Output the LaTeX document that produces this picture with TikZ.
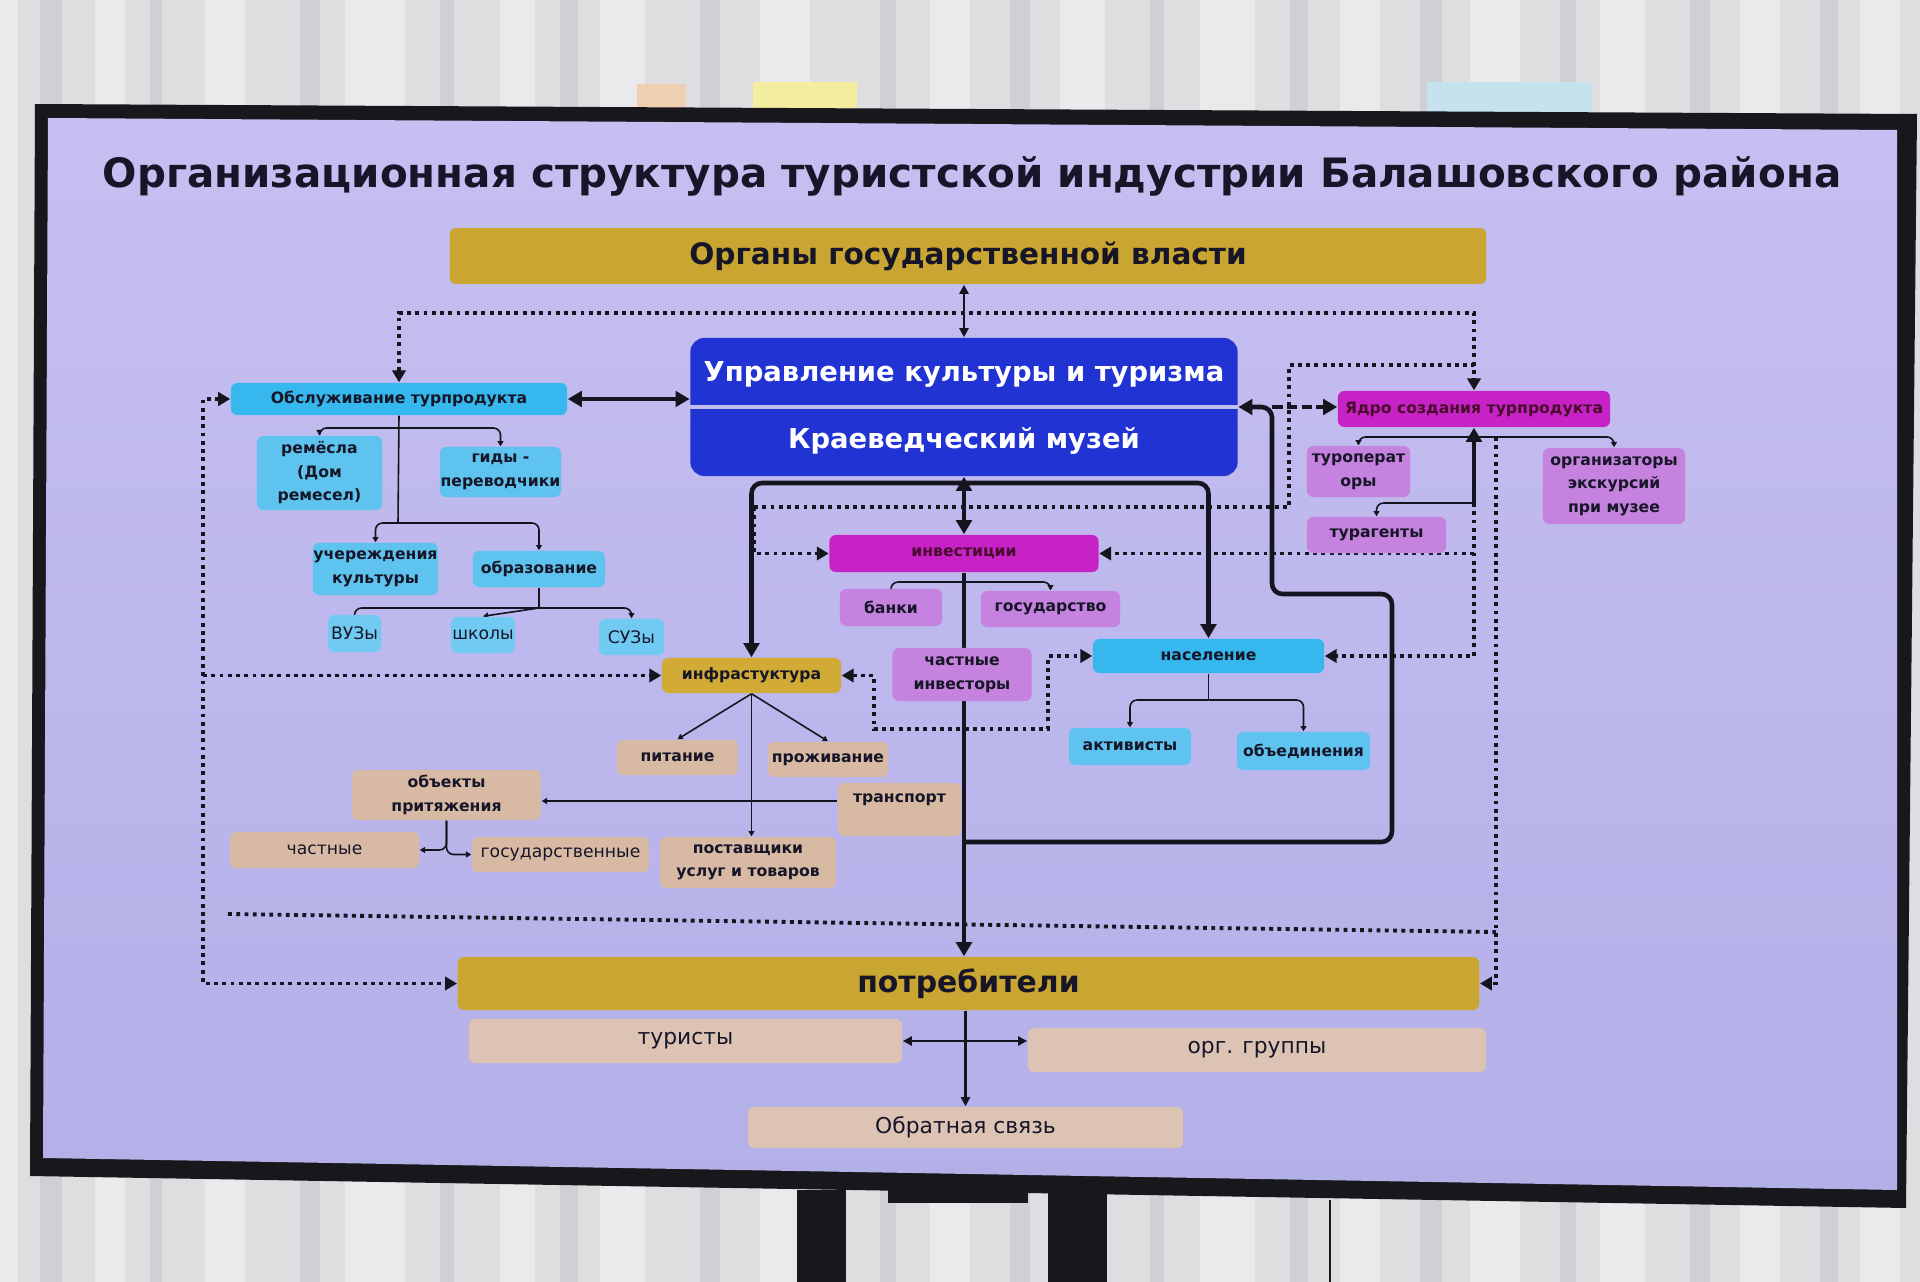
\documentclass[tikz,border=0pt]{standalone}
\usepackage{fontspec}
\setmainfont{DejaVu Sans}
\usetikzlibrary{arrows.meta,calc}
\pgfdeclarelayer{bgl}
\pgfdeclarelayer{conl}
\pgfsetlayers{bgl,conl,main}
\definecolor{ink}{HTML}{15151F}
\definecolor{txt}{HTML}{161628}
\definecolor{gold}{HTML}{C9A532}
\definecolor{goldB}{HTML}{D2AA36}
\definecolor{bluebx}{HTML}{2233D4}
\definecolor{cyanA}{HTML}{36B8EE}
\definecolor{cyanB}{HTML}{5EC4EF}
\definecolor{cyanC}{HTML}{70CAF1}
\definecolor{magA}{HTML}{C722C6}
\definecolor{magT}{HTML}{4A0A2C}
\definecolor{magB}{HTML}{C582DE}
\definecolor{tanA}{HTML}{D8BAA4}
\definecolor{tanB}{HTML}{DCC3B4}
\definecolor{scrTop}{HTML}{C6BFF1}
\definecolor{scrBot}{HTML}{B3B0E8}
\definecolor{scrLine}{HTML}{C2BEEF}
\definecolor{bez}{HTML}{18181C}
\definecolor{wall}{HTML}{DEDEE0}
\definecolor{wallL}{HTML}{EAEAEC}
\definecolor{wallD}{HTML}{D0D0D4}
\newcommand\ftitle{\fontsize{11.5}{13}\selectfont\bfseries}
\newcommand\fbig{\fontsize{8.4}{10}\selectfont\bfseries}
\newcommand\fupr{\fontsize{7.8}{9}\selectfont\bfseries}
\newcommand\fpot{\fontsize{8.5}{10}\selectfont\bfseries}
\newcommand\fsb{\fontsize{4.45}{6.7}\selectfont\bfseries}
\newcommand\fsr{\fontsize{4.9}{6.8}\selectfont}
\newcommand\fbr{\fontsize{6.2}{7.5}\selectfont}
\tikzset{
  BigT/.tip={Triangle[length=4pt,width=4.4pt]},
  DotT/.tip={Triangle[length=3.4pt,width=3.8pt]},
  MedT/.tip={Triangle[length=2.6pt,width=2.6pt]},
  SmT/.tip={Triangle[length=1.5pt,width=1.7pt]},
  box/.style={rectangle, rounded corners=1.8pt, inner sep=0pt, align=center, text=txt},
  goldbx/.style={box, fill=gold},
  cy/.style={box, fill=cyanA, font=\fsb},
  lcy/.style={box, fill=cyanB, font=\fsb},
  llcy/.style={box, fill=cyanC, font=\fsr},
  mag/.style={box, fill=magA, font=\fsb, text=magT},
  lmag/.style={box, fill=magB, font=\fsb},
  tanb/.style={box, fill=tanA, font=\fsb},
  tanr/.style={box, fill=tanA, font=\fsr},
  tanl/.style={box, fill=tanB, font=\fbr},
  thk/.style={line width=1.3pt, draw=ink},
  medln/.style={line width=0.8pt, draw=ink},
  tree/.style={line width=0.45pt, draw=ink},
  dotln/.style={line width=1.1pt, draw=ink, dash pattern=on 1.1pt off 1.25pt},
}
\begin{document}
\begin{tikzpicture}[x=0.01cm,y=-0.01cm]
\useasboundingbox (0,0) rectangle (1920,1282);
\begin{pgfonlayer}{bgl}
% room background
\fill[wall] (0,0) rectangle (1920,1282);
\foreach \xa/\wa/\ca in {0/18/wallL,40/22/wallD,95/30/wallL,150/12/wallD,205/40/wallL,300/20/wallD,345/60/wallL,440/14/wallD,500/35/wallL,560/18/wallD,600/45/wallL,700/20/wallD,760/50/wallL,880/16/wallD,930/40/wallL,1010/20/wallD,1060/45/wallL,1150/14/wallD,1200/55/wallL,1290/18/wallD,1340/40/wallL,1420/22/wallD,1470/50/wallL,1560/16/wallD,1600/45/wallL,1690/20/wallD,1740/40/wallL,1820/18/wallD,1860/40/wallL}
  \fill[\ca] (\xa,0) rectangle ++(\wa,1282);
\fill[orange!25!wallL] (637,84) rectangle (686,108);
\fill[yellow!35!wallL] (753,82) rectangle (857,108);
\fill[cyan!18!wallL] (1427,82) rectangle (1592,112);
% stand
\fill[bez] (797,1190) rectangle (846,1282);
\fill[bez] (1048,1190) rectangle (1107,1282);
\draw[bez, line width=0.6pt] (1330,1200) -- (1330,1282);
% bezel and screen
\fill[bez] (35,104) -- (1917,114) -- (1906,1208) -- (30,1176) -- cycle;
\fill[bez] (888,1188) rectangle (1028,1203);
\shade[top color=scrTop, bottom color=scrBot] (48,118) -- (1897,130) -- (1897,1190) -- (43,1158) -- cycle;
\end{pgfonlayer}

% ---------- nodes ----------
\node[font=\ftitle, text=txt] (title) at (972,176) {Организационная структура туристской индустрии Балашовского района};
\node[goldbx, font=\fbig, minimum width=10.36cm, minimum height=0.56cm] (organy) at (968,256) {Органы государственной власти};
\node[rectangle, rounded corners=4pt, fill=bluebx, minimum width=5.47cm, minimum height=1.38cm, inner sep=0pt] (upr) at (964,407) {};
\draw[scrLine, line width=1.2pt] (upr.west) -- (upr.east);
\node[font=\fupr, text=white] (upr1) at (964,374) {Управление культуры и туризма};
\node[font=\fupr, text=white] (upr2) at (964,441) {Краеведческий музей};

\node[cy, minimum width=3.36cm, minimum height=0.32cm] (obs) at (399,399) {Обслуживание турпродукта};
\node[lcy, minimum width=1.25cm, minimum height=0.74cm] (rem) at (319.5,473) {ремёсла\\(Дом\\ремесел)};
\node[lcy, minimum width=1.21cm, minimum height=0.50cm] (gid) at (500.5,472) {гиды -\\переводчики};
\node[lcy, minimum width=1.25cm, minimum height=0.52cm] (uch) at (375.5,569) {учереждения\\культуры};
\node[lcy, minimum width=1.32cm, minimum height=0.36cm] (obr) at (539,569) {образование};
\node[llcy, minimum width=0.53cm, minimum height=0.37cm] (vuz) at (354.5,633.5) {ВУЗы};
\node[llcy, minimum width=0.64cm, minimum height=0.36cm] (shk) at (483,635) {школы};
\node[llcy, minimum width=0.65cm, minimum height=0.36cm] (suz) at (631.5,637) {СУЗы};

\node[goldbx, fill=goldB, font=\fsb, minimum width=1.79cm, minimum height=0.35cm] (inf) at (751.5,675.5) {инфрастуктура};
\node[tanb, minimum width=1.21cm, minimum height=0.35cm] (pit) at (677.5,757.5) {питание};
\node[tanb, minimum width=1.20cm, minimum height=0.35cm] (pro) at (828,759.5) {проживание};
\node[tanb, minimum width=1.23cm, minimum height=0.53cm, text height=4pt, text depth=8pt, inner ysep=1.5pt] (tra) at (899.5,809.5) {транспорт};
\node[tanb, minimum width=1.89cm, minimum height=0.50cm] (obj) at (446.5,795) {объекты\\притяжения};
\node[tanr, minimum width=1.89cm, minimum height=0.36cm] (cha) at (324.5,850) {частные};
\node[tanr, minimum width=1.77cm, minimum height=0.35cm] (gos) at (560.5,854.5) {государственные};
\node[tanb, minimum width=1.76cm, minimum height=0.51cm] (pos) at (748,862.5) {поставщики\\услуг и товаров};

\node[mag, minimum width=2.69cm, minimum height=0.37cm] (inv) at (964,553.5) {инвестиции};
\node[lmag, minimum width=1.02cm, minimum height=0.37cm] (ban) at (891,607.5) {банки};
\node[lmag, minimum width=1.39cm, minimum height=0.36cm] (gsd) at (1050.5,609) {государство};
\node[lmag, minimum width=1.39cm, minimum height=0.53cm] (chi) at (962,674.5) {частные\\инвесторы};

\node[cy, minimum width=2.31cm, minimum height=0.34cm] (nas) at (1208.5,656) {население};
\node[lcy, minimum width=1.22cm, minimum height=0.37cm] (akt) at (1130,746.5) {активисты};
\node[lcy, minimum width=1.33cm, minimum height=0.38cm] (obe) at (1303.5,751) {объединения};

\node[mag, minimum width=2.72cm, minimum height=0.36cm] (yad) at (1474,409) {Ядро создания турпродукта};
\node[lmag, minimum width=1.03cm, minimum height=0.51cm] (tur) at (1358.5,471.5) {туроперат\\оры};
\node[lmag, minimum width=1.39cm, minimum height=0.36cm] (tag) at (1376.5,535) {турагенты};
\node[lmag, minimum width=1.42cm, minimum height=0.76cm] (org) at (1614,486) {организаторы\\экскурсий\\при музее};

\node[goldbx, font=\fpot, minimum width=10.21cm, minimum height=0.53cm] (pot) at (968.5,983.5) {потребители};
\node[tanl, minimum width=4.33cm, minimum height=0.44cm] (tst) at (685.5,1041) {туристы};
\node[tanl, minimum width=4.58cm, minimum height=0.44cm] (ogr) at (1257,1050) {орг. группы};
\node[tanl, minimum width=4.35cm, minimum height=0.41cm] (fbk) at (965.5,1127.5) {Обратная связь};

% ---------- levels ----------
\coordinate (xL) at (203,0);
\coordinate (xA) at (754,0);
\coordinate (xB) at (1289,0);
\coordinate (xT) at (1272,0);
\coordinate (xU) at (1392,0);
\coordinate (xZ) at (1496,0);
\coordinate (yTop) at (0,313);
\coordinate (yIn) at (0,365);
\coordinate (yH) at (0,483);
\coordinate (yD1) at (0,507);
\coordinate (yJ) at (0,594);
\coordinate (yK) at (0,842);
\coordinate (yTr) at (0,801);
\coordinate (b1) at (398,428);
\coordinate (b2) at (398,523);
\coordinate (b3) at (539,608);
\coordinate (b4) at (964,582);
\coordinate (b5) at (1208.5,700);
\coordinate (b6) at (1474,437);
\coordinate (b7) at (1474,503);
\coordinate (l1) at (874,729);
\coordinate (l2) at (1048,0);
\coordinate (dl1) at (228,914);
\coordinate (dl2) at (1496,932);

% ---------- connectors ----------
\begin{pgfonlayer}{conl}
\draw[medln, {MedT}-{MedT}] (upr.north |- organy.south) -- (upr.north);
\draw[dotln, {DotT}-{DotT}] (obs.north) |- (yTop -| yad.north) -- (yad.north);
\draw[thk, {BigT}-{BigT}] (obs.east) -- (obs.east -| upr.west);
\draw[dotln, {DotT}-{DotT}] (obs.west) -- (xL |- obs.west) |- (pot.west);
\draw[dotln, -{DotT}] (xL |- inf.west) -- (inf.west);
\draw[dotln] (dl1) -- (dl2);
% obs tree
\draw[tree] (obs.south) -- (b2);
\draw[tree, -{SmT}, rounded corners=2pt] (b1) -| (rem.north);
\draw[tree, -{SmT}, rounded corners=2pt] (b1) -| (gid.north);
\draw[tree, -{SmT}, rounded corners=2pt] (b2) -| (uch.north);
\draw[tree, -{SmT}, rounded corners=2pt] (b2) -| (obr.north);
\draw[tree] (obr.south) -- (b3);
\draw[tree, -{SmT}, rounded corners=2pt] (b3) -| (vuz.north);
\draw[tree, -{SmT}] (b3) -- (shk.north);
\draw[tree, -{SmT}, rounded corners=2pt] (b3) -| (suz.north);
% central thick lines
\draw[thk, {BigT}-{BigT}] (upr.south) -- (inv.north);
\draw[thk, {BigT}-{BigT}, rounded corners=3pt] (inf.north) |- (nas.north |- yH) -- (nas.north);
\draw[thk] (inv.south) -- (inv.south |- yK);
\draw[thk, -{BigT}] (inv.south |- yK) -- (inv.south |- pot.north);
\draw[thk, {BigT}-, rounded corners=3pt] (upr.east) -- (xT |- upr.east) -- (xT |- yJ) -- (xU |- yJ) -- (xU |- yK) -- (inv.south |- yK);
\draw[thk, dash pattern=on 3pt off 1.2pt, -{BigT}] (xT |- upr.east) -- (yad.west |- upr.east);
% inv tree
\draw[tree, -{SmT}, rounded corners=2pt] (b4) -| (ban.north);
\draw[tree, -{SmT}, rounded corners=2pt] (b4) -| (gsd.north);
% nas tree
\draw[tree] (nas.south) -- (b5);
\draw[tree, -{SmT}, rounded corners=2pt] (b5) -| (akt.north);
\draw[tree, -{SmT}, rounded corners=2pt] (b5) -| (obe.north);
% dotted network
\draw[dotln] (xA |- yD1) -| (xB |- yIn) -- (yad.north |- yIn);
\draw[dotln, -{DotT}] (xA |- yD1) |- (inv.west);
\draw[dotln, {DotT}-{DotT}] (inf.east) -| (l1) -| (l2 |- nas.west) -- (nas.west);
% yad tree
\draw[thk, {BigT}-] (yad.south) -- (b7);
\draw[tree, -{SmT}, rounded corners=2pt] (b6) -| (tur.north);
\draw[tree, -{SmT}, rounded corners=2pt] (b6) -| (org.north);
\draw[tree, -{SmT}, rounded corners=2pt] (b7) -| (tag.north);
\draw[dotln, -{DotT}] (b7) |- (nas.east);
\draw[dotln, -{DotT}] (b7 |- inv.east) -- (inv.east);
\draw[dotln, -{DotT}] (xZ |- b6) |- (pot.east);
% inf tree
\draw[tree, -{SmT}] (inf.south) -- (pit.north);
\draw[tree, -{SmT}] (inf.south) -- (pro.north);
\draw[tree, -{SmT}] (inf.south) -- (inf.south |- pos.north);
\draw[tree, -{SmT}] (tra.west |- yTr) -- (obj.east |- yTr);
\draw[tree, -{SmT}, rounded corners=2pt] (obj.south) |- (cha.east);
\draw[tree, -{SmT}, rounded corners=2pt] (obj.south) |- (gos.west);
% consumers
\draw[medln, -{MedT}] (fbk.north |- pot.south) -- (fbk.north);
\draw[medln, {MedT}-{MedT}] (tst.east) -- (tst.east -| ogr.west);
\end{pgfonlayer}
\end{tikzpicture}
\end{document}
